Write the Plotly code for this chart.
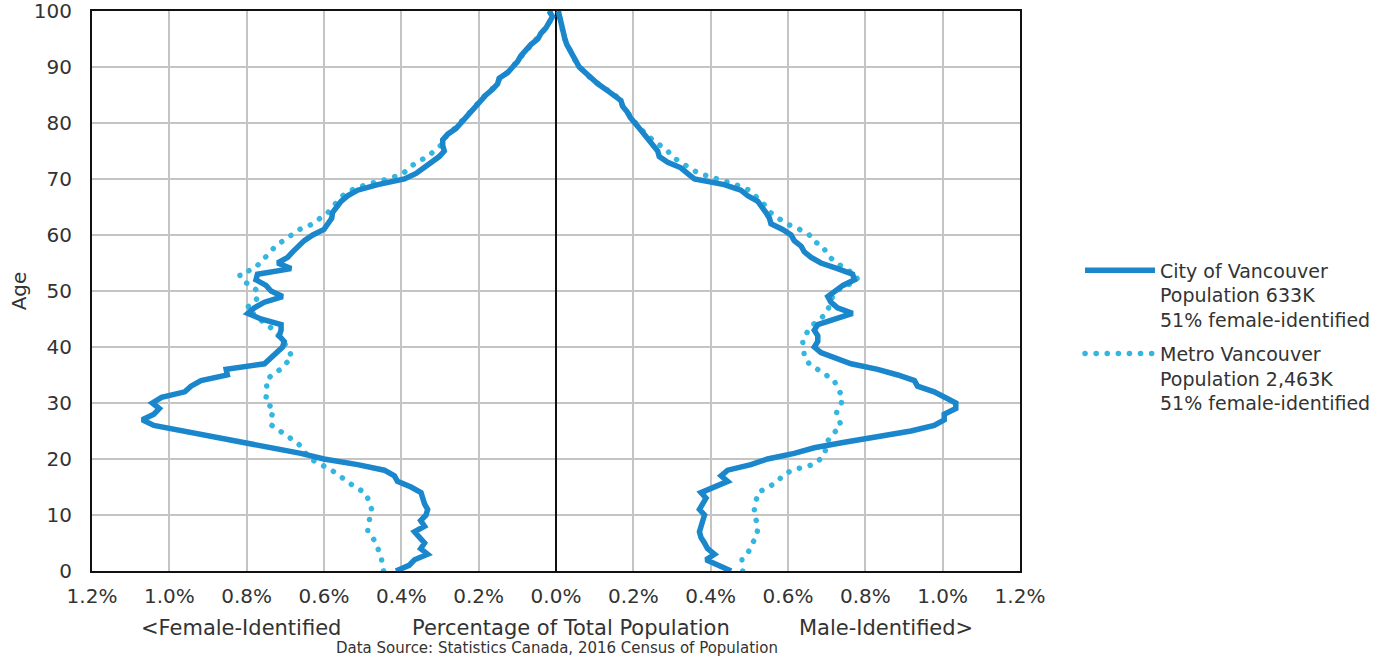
import plotly.graph_objects as go

ages = list(range(0, 101))

city_female = [0.414, 0.38, 0.366, 0.332, 0.35, 0.34, 0.353, 0.366, 0.34, 0.35,
               0.336, 0.332, 0.34, 0.345, 0.349, 0.375, 0.41, 0.418, 0.444, 0.513,
               0.60, 0.66, 0.737, 0.797, 0.875, 0.96, 1.04, 1.07, 1.04, 1.026,
               1.044, 1.02, 0.96, 0.944, 0.918, 0.85, 0.853, 0.754, 0.737, 0.724,
               0.707, 0.703, 0.716, 0.711, 0.711, 0.763, 0.797, 0.78, 0.754, 0.707,
               0.737, 0.75, 0.776, 0.772, 0.685, 0.72, 0.694, 0.681, 0.668, 0.651,
               0.629, 0.60, 0.59, 0.58, 0.578, 0.569, 0.556, 0.539, 0.513, 0.461,
               0.392, 0.362, 0.34, 0.319, 0.302, 0.289, 0.293, 0.293, 0.28, 0.259,
               0.246, 0.233, 0.22, 0.207, 0.198, 0.181, 0.164, 0.151, 0.147, 0.125,
               0.112, 0.099, 0.091, 0.078, 0.065, 0.047, 0.039, 0.026, 0.017, 0.009,
               0.018]

city_male = [0.453, 0.418, 0.388, 0.41, 0.392, 0.384, 0.375, 0.371, 0.375, 0.379,
             0.384, 0.371, 0.379, 0.388, 0.375, 0.41, 0.444, 0.427, 0.444, 0.504,
             0.547, 0.616, 0.668, 0.746, 0.832, 0.918, 0.978, 1.004, 1.004, 1.034,
             1.034, 1.004, 0.978, 0.935, 0.927, 0.884, 0.832, 0.763, 0.72, 0.685,
             0.668, 0.677, 0.677, 0.668, 0.677, 0.728, 0.767, 0.728, 0.711, 0.703,
             0.72, 0.742, 0.772, 0.767, 0.728, 0.685, 0.66, 0.642, 0.634, 0.616,
             0.608, 0.586, 0.556, 0.552, 0.543, 0.534, 0.522, 0.496, 0.478, 0.435,
             0.358, 0.34, 0.323, 0.289, 0.267, 0.263, 0.25, 0.237, 0.228, 0.216,
             0.203, 0.192, 0.184, 0.172, 0.168, 0.151, 0.129, 0.108, 0.091, 0.073,
             0.06, 0.052, 0.043, 0.034, 0.028, 0.023, 0.02, 0.015, 0.011, 0.009,
             0.006]

metro_female = [0.446, 0.448, 0.451, 0.456, 0.46, 0.465, 0.475, 0.487, 0.486, 0.482,
                0.479, 0.477, 0.48, 0.486, 0.494, 0.52, 0.538, 0.56, 0.58, 0.61,
                0.635, 0.647, 0.655, 0.672, 0.693, 0.715, 0.735, 0.738, 0.735, 0.73,
                0.75, 0.75, 0.746, 0.748, 0.75, 0.735, 0.713, 0.70, 0.683, 0.688,
                0.695, 0.705, 0.718, 0.73, 0.745, 0.768, 0.785, 0.80, 0.78, 0.77,
                0.772, 0.789, 0.815, 0.818, 0.78, 0.765, 0.748, 0.738, 0.726, 0.702,
                0.684, 0.663, 0.628, 0.61, 0.59, 0.578, 0.565, 0.552, 0.53, 0.49,
                0.435, 0.395, 0.38, 0.36, 0.332, 0.315, 0.298, 0.29, 0.28, 0.262,
                0.248, 0.234, 0.221, 0.208, 0.197, 0.182, 0.165, 0.152, 0.145, 0.126,
                0.113, 0.1, 0.09, 0.078, 0.064, 0.048, 0.038, 0.026, 0.017, 0.01,
                0.015]

metro_male = [0.483, 0.482, 0.481, 0.495, 0.50, 0.508, 0.518, 0.521, 0.523, 0.518,
              0.512, 0.513, 0.516, 0.519, 0.522, 0.55, 0.574, 0.585, 0.61, 0.665,
              0.684, 0.695, 0.699, 0.701, 0.71, 0.725, 0.737, 0.732, 0.725, 0.728,
              0.738, 0.742, 0.732, 0.725, 0.72, 0.70, 0.675, 0.655, 0.643, 0.642,
              0.64, 0.638, 0.645, 0.652, 0.665, 0.685, 0.70, 0.705, 0.71, 0.715,
              0.725, 0.75, 0.78, 0.775, 0.745, 0.728, 0.708, 0.698, 0.69, 0.664,
              0.655, 0.63, 0.597, 0.575, 0.555, 0.545, 0.53, 0.515, 0.50, 0.465,
              0.42, 0.37, 0.345, 0.32, 0.30, 0.289, 0.267, 0.25, 0.232, 0.218,
              0.205, 0.193, 0.185, 0.173, 0.167, 0.152, 0.13, 0.109, 0.09, 0.074,
              0.061, 0.051, 0.043, 0.035, 0.028, 0.023, 0.019, 0.015, 0.011, 0.009,
              0.006]

tick_vals = [-1.2, -1.0, -0.8, -0.6, -0.4, -0.2, 0.0, 0.2, 0.4, 0.6, 0.8, 1.0, 1.2]
tick_text = ["1.2%", "1.0%", "0.8%", "0.6%", "0.4%", "0.2%", "0.0%",
             "0.2%", "0.4%", "0.6%", "0.8%", "1.0%", "1.2%"]

city_name = "City of Vancouver<br>Population 633K<br>51% female-identified"
metro_name = "Metro Vancouver<br>Population 2,463K<br>51% female-identified"

CITY_COLOR = "#1a86cc"
METRO_COLOR = "#35b6e0"
FONT = "DejaVu Sans"
TXT = "#333333"

fig = go.Figure()

# female side drawn as negative values, male side positive; each series is one path
def path(female, male):
    xs = [-v for v in female] + [None] + list(male)
    ys = ages + [None] + ages
    return xs, ys

mx, my = path(metro_female, metro_male)
fig.add_trace(go.Scatter(x=mx, y=my, mode="lines", name=metro_name,
                         legendgroup="metro",
                         line=dict(color=METRO_COLOR, width=5.5, dash="0.1px,11px"),
                         legendrank=2, hoverinfo="skip"))
cx, cy = path(city_female, city_male)
fig.add_trace(go.Scatter(x=cx, y=cy, mode="lines", name=city_name,
                         legendgroup="city",
                         line=dict(color=CITY_COLOR, width=5.5),
                         legendrank=1, hoverinfo="skip"))

fig.update_layout(
    width=1393, height=660,
    margin=dict(l=92, r=373, t=11, b=89, autoexpand=False),
    paper_bgcolor="white", plot_bgcolor="white",
    font=dict(family=FONT, color=TXT, size=19),
    showlegend=True,
    legend=dict(x=(1080 - 92) / 928, y=0.5705, xanchor="left", yanchor="top",
                valign="top", itemwidth=70,
                font=dict(size=19, color=TXT, family=FONT), tracegroupgap=6,
                bgcolor="rgba(0,0,0,0)"),
    xaxis=dict(range=[-1.2, 1.2], tickvals=tick_vals, ticktext=tick_text,
               automargin=False, ticklabelstandoff=6, ticklabeloverflow="allow",
               showgrid=True, gridcolor="#c4c4c4", gridwidth=2,
               zeroline=True, zerolinecolor="#111111", zerolinewidth=1.5,
               showline=True, linecolor="#111111", linewidth=2, mirror=True,
               ticks="", tickfont=dict(size=20, color=TXT)),
    yaxis=dict(range=[0, 100], dtick=10, showgrid=True, gridcolor="#c4c4c4",
               gridwidth=2, zeroline=False, automargin=False,
               ticklabelstandoff=14, ticklabeloverflow="allow",
               showline=True, linecolor="#111111", linewidth=2, mirror=True,
               ticks="", tickfont=dict(size=20, color=TXT),
               title=dict(text="Age", font=dict(size=20, color=TXT), standoff=2)),
)

annots = [
    ("<Female-Identified", 241, 628, 21),
    ("Percentage of Total Population", 571, 628, 21),
    ("Male-Identified>", 886, 628, 21),
    ("Data Source: Statistics Canada, 2016 Census of Population", 557, 648, 15),
]
for text, px, py, size in annots:
    fig.add_annotation(text=text, xref="paper", yref="paper",
                       x=(px - 92) / 928, y=(571 - py) / 560,
                       xanchor="center", yanchor="middle", showarrow=False,
                       font=dict(size=size, color=TXT, family=FONT))

post = """
document.body.style.margin = '0px';
document.body.style.overflow = 'hidden';
function restyleMarks(){
  var traces = document.querySelectorAll('.scatterlayer .trace');
  if (traces.length) {
    traces[0].querySelectorAll('path.js-line').forEach(function(p){
      p.style.strokeLinecap = 'round';
    });
  }
  document.querySelectorAll('.legend .traces').forEach(function(t){
    t.querySelectorAll('path.js-line').forEach(function(p){
      p.setAttribute('d', 'M5,0h70');
      if ((p.style.strokeDasharray || '').indexOf('11') >= 0) {
        p.style.strokeLinecap = 'round';
      }
    });
  });
}
restyleMarks();
setTimeout(restyleMarks, 50);
setTimeout(restyleMarks, 300);
"""

fig.write_html("out.html", post_script=post, config={"displayModeBar": False})
